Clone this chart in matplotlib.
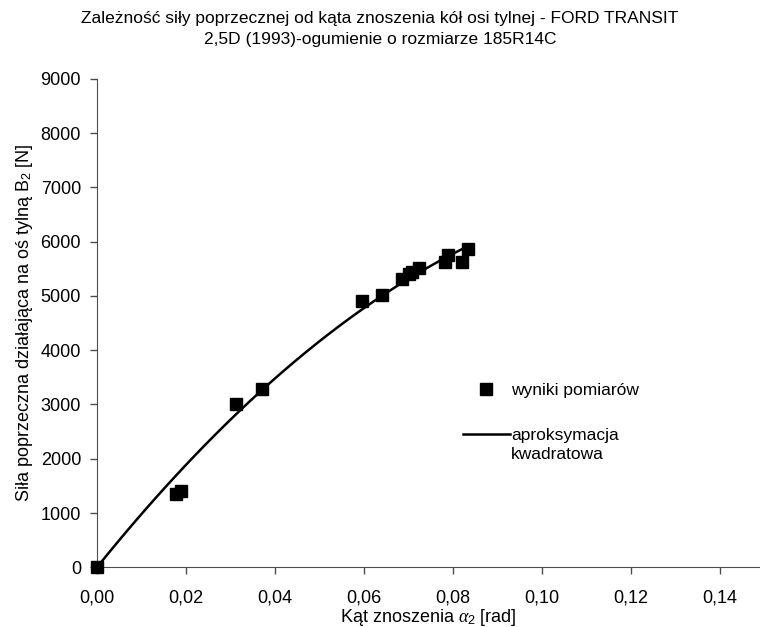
import matplotlib
matplotlib.use("Agg")
import matplotlib.pyplot as plt
from matplotlib.legend_handler import HandlerLine2D
import numpy as np

# measured points: slip angle [rad] vs lateral force on rear axle [N]
alpha = [0.0, 0.0177, 0.0188, 0.0312, 0.0370, 0.0596, 0.0640,
         0.0686, 0.0701, 0.0708, 0.0724, 0.0782, 0.0788, 0.0821, 0.0834]
force = [0, 1350, 1400, 3000, 3290, 4910, 5020,
         5320, 5400, 5450, 5510, 5620, 5760, 5630, 5860]

title = ("Zależność siły poprzecznej od kąta znoszenia kół osi tylnej - FORD TRANSIT\n"
         "2,5D (1993)-ogumienie o rozmiarze 185R14C")
x_ticks = [0.00, 0.02, 0.04, 0.06, 0.08, 0.10, 0.12, 0.14]
y_ticks = list(range(0, 9001, 1000))

plt.rcParams["font.family"] = ["Liberation Sans", "DejaVu Sans"]
plt.rcParams["mathtext.fontset"] = "custom"
plt.rcParams["mathtext.rm"] = "Liberation Sans"
plt.rcParams["mathtext.it"] = "Liberation Serif:italic"
AXIS_GREY = "0.3"


class FirstLineHandler(HandlerLine2D):
    # put the legend line level with the first line of a two-line label
    def create_artists(self, legend, orig_handle, xdescent, ydescent,
                       width, height, fontsize, trans):
        arts = super().create_artists(legend, orig_handle, xdescent, ydescent,
                                      width, height, fontsize, trans)
        for a in arts:
            a.set_ydata(np.asarray(a.get_ydata()) + 0.62 * fontsize)
        return arts


fig = plt.figure(figsize=(7.6, 6.27), dpi=100)
ax = fig.add_axes([0.1276, 0.0952, 0.8724, 0.779])

# quadratic approximation through the origin: F = a*alpha + b*alpha^2
A = np.column_stack([alpha, np.square(alpha)])
coef, *_ = np.linalg.lstsq(A, np.asarray(force, float), rcond=None)
xs = np.linspace(0, max(alpha), 100)
fit_line, = ax.plot(xs, coef[0] * xs + coef[1] * xs ** 2, color="black", lw=1.8,
                    label="aproksymacja\nkwadratowa")
pts, = ax.plot(alpha, force, "s", color="black", ms=8.5, ls="none",
               label="wyniki pomiarów", clip_on=False, zorder=3)

ax.set_xlim(0, 0.149)
ax.set_ylim(0, 9000)
ax.set_xticks(x_ticks)
ax.set_xticklabels([f"{v:.2f}".replace(".", ",") for v in x_ticks])
ax.set_yticks(y_ticks)
ax.tick_params(labelsize=13, length=5, width=1, direction="out", color=AXIS_GREY)
ax.tick_params(axis="y", pad=6.5)
ax.tick_params(axis="x", pad=11)
for s in ("top", "right"):
    ax.spines[s].set_visible(False)
for s in ("left", "bottom"):
    ax.spines[s].set_color(AXIS_GREY)

ax.set_xlabel(r"Kąt znoszenia $\alpha_2$ [rad]", fontsize=13, labelpad=0)
ax.set_ylabel(r"Siła poprzeczna działająca na oś tylną B$_2$ [N]", fontsize=13, labelpad=4)
fig.suptitle(title, fontsize=12.5, y=0.982, linespacing=1.45)

leg = ax.legend([pts, fit_line], ["wyniki pomiarów", "aproksymacja\nkwadratowa"],
                handler_map={fit_line: FirstLineHandler()},
                frameon=False, fontsize=12.5, loc="upper left",
                bbox_to_anchor=(0.528, 0.41),
                handlelength=2.7, handletextpad=0.1, labelspacing=1.75)
for t in leg.get_texts():
    t.set_linespacing(1.3)

fig.savefig("out.png", dpi=100)
